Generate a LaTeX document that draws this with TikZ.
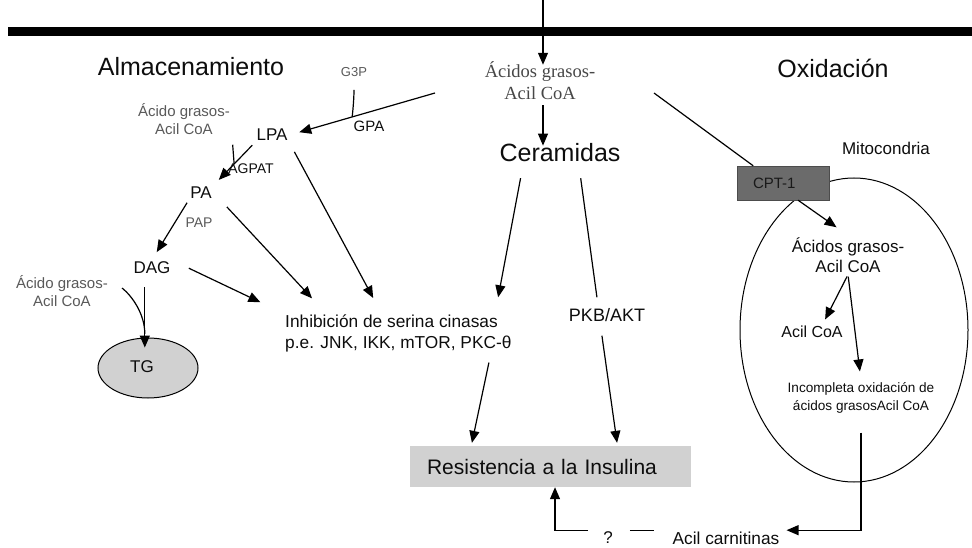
\documentclass[tikz,border=0pt]{standalone}
\usepackage{fontspec}
\setmainfont{Liberation Sans}
\newfontfamily\seriffam{Liberation Serif}
\usetikzlibrary{arrows.meta,calc,shapes.geometric}
\newcommand\fsz[2]{\fontsize{#1}{#2}\selectfont}

\begin{document}
\begin{tikzpicture}[x=1pt,y=1pt,
  txt/.style={inner sep=2pt, text=black!95},
  small/.style={inner sep=2pt, text=black!65},
  arr/.style={line width=1.2pt, -{Triangle[length=12pt,width=10pt]}},
  ln/.style={line width=1.2pt},
  title/.style={txt, font=\fsz{25}{30}}]

\useasboundingbox (0,0) rectangle (972,-548);

% cell membrane
\node[fill=black, inner sep=0, minimum width=964pt, minimum height=9pt] (membrane) at (490,-31.5) {};

% fatty acids entering the cell
\coordinate (ext) at (543,0);
\node[font=\seriffam\fsz{18.5}{22}, align=center, text=black!72, inner sep=1pt] (acid) at (540,-81) {Ácidos grasos-\\Acil CoA};
\draw[arr, shorten >=-4pt] (ext) -- (ext |- acid.north);

% section titles
\node[title] (alm) at (191,-67) {Almacenamiento};
\node[title] (oxi) at (833,-68) {Oxidación};
\node[title] (cer) at (560,-153) {Ceramidas};
\draw[arr, shorten <=4pt, shorten >=-4pt] (acid.south -| ext) -- (cer.north -| ext);

% ---------- storage branch ----------
\coordinate (stoStart) at (435,-93);
\node[txt, font=\fsz{17}{20}] (lpa) at (272,-135) {LPA};
\draw[arr, shorten >=10pt] (stoStart) -- (lpa.east);
\path (stoStart) -- (lpa.east) coordinate[pos=0.57] (gpaJoin);
\node[small, font=\fsz{13}{15}] (g3p) at (354,-72) {G3P};
\draw[ln, shorten <=11pt] (g3p.south) .. controls +(0,-18) and +(1,8) .. (gpaJoin);
\node[txt, font=\fsz{15}{18}] (gpa) at (369,-126) {GPA};

\node[small, font=\fsz{15}{18}, align=center] (acyl1) at (184,-119) {Ácido grasos-\\Acil CoA};
\node[txt, font=\fsz{17}{20}] (pa) at (201,-193) {PA};
\draw[arr, shorten <=3pt, shorten >=7pt] (lpa.south west) -- (pa.north east);
\path (lpa.south west) -- (pa.north east) coordinate[pos=0.5] (agJoin);
\draw[ln, shorten <=8pt] (acyl1.south east) -- (agJoin);
\node[txt, font=\fsz{14}{16}] (agpat) at (251,-169) {AGPAT};

\node[txt, font=\fsz{17}{20}] (dag) at (152,-268) {DAG};
\draw[arr, shorten <=2pt, shorten >=9pt] (pa.south west) -- (dag.north);
\node[small, font=\fsz{14}{16}] (pap) at (199,-223) {PAP};

% triglyceride synthesis
\node[small, font=\fsz{15}{18}, align=center] (acyl2) at (62,-291) {Ácido grasos-\\Acil CoA};
\node[draw, ellipse, fill=black!18, line width=1pt, minimum width=100pt, minimum height=60pt, inner sep=0] (tg) at (148,-368) {};
\node[txt, font=\fsz{17}{20}] (tglab) at (142,-367) {TG};
\draw[arr, shorten <=11pt, shorten >=-10pt] (dag.south -| tg.96) -- (tg.96);
\path (dag.south -| tg.96) -- (tg.96) coordinate[pos=0.94] (tgJoin);
\draw[ln] (acyl2.east) ++(12,3) .. controls +(10,-8) and +(0,20) .. (tgJoin);

% serine kinases
\node[txt, font=\fsz{17.3}{21}, align=left, anchor=north west] (inhib) at (283,-313) {Inhibición de serina cinasas\\p.e. JNK, IKK, mTOR, PKC-θ};
\draw[arr, shorten <=18pt, shorten >=25pt] (dag.20) -- (inhib.north west);
\draw[arr, shorten <=19pt, shorten >=20pt] (pa.east) -- ($(inhib.north west)!0.185!(inhib.north east)$);
\draw[arr, shorten <=10pt, shorten >=17pt] (lpa.south east) -- ($(inhib.north west)!0.426!(inhib.north east)$);
\draw[arr, shorten <=14pt, shorten >=16pt] ($(cer.south west)!0.206!(cer.south east)$) -- ($(inhib.north west)!0.92!(inhib.north east)$);

\node[txt, font=\fsz{18}{21}] (pkb) at (607,-315) {PKB/AKT};
\draw[ln, shorten <=14pt, shorten >=9pt] ($(cer.south west)!0.65!(cer.south east)$) -- ($(pkb.north west)!0.39!(pkb.north east)$);

% insulin resistance
\node[fill=black!18, minimum width=281pt, minimum height=41pt, inner xsep=17pt, inner ysep=0pt, text width=247pt, align=left, text=black!95, font=\fsz{21}{24}] (res) at (550.5,-466.5) {Resistencia a la Insulina};
\draw[arr, shorten <=8pt, shorten >=3pt] ($(inhib.south west)!0.90!(inhib.south east)$) -- ($(res.north west)!0.2185!(res.north east)$);
\draw[arr, shorten <=12pt, shorten >=3pt] ($(pkb.south west)!0.416!(pkb.south east)$) -- ($(res.north west)!0.738!(res.north east)$);

% ---------- oxidation branch ----------
\node[txt, font=\fsz{17}{20}] (mitolab) at (886,-148) {Mitocondria};
\node[draw, ellipse, line width=1pt, minimum width=228pt, minimum height=304pt, inner sep=0] (mito) at (854,-330) {};
\node[draw=black!70, fill=black!58, minimum width=92pt, minimum height=34pt, inner sep=0, text width=60pt, align=left, text=black!90, font=\fsz{15}{18}] (cpt) at (783,-183) {CPT-1};
\coordinate (oxStart) at (654,-93);
\draw[ln] (oxStart) -- (cpt.150.5);

\node[txt, font=\fsz{17}{20}, align=center] (acid2) at (848,-255) {Ácidos grasos-\\Acil CoA};
\draw[arr, shorten >=14pt] ($(cpt.south west)!0.663!(cpt.south east)$) -- (acid2.north);
\node[txt, font=\fsz{16}{19}] (acil2) at (812,-332) {Acil CoA};
\draw[arr, shorten <=2pt, shorten >=5pt] (acid2.south) -- ($(acil2.north west)!0.665!(acil2.north east)$);
\node[txt, font=\fsz{13.6}{18}, align=center] (incomp) at (861,-398) {Incompleta oxidación de\\ácidos grasosAcil CoA};
\draw[arr, shorten <=2pt, shorten >=9pt] (acid2.south) -- (incomp.north);

% acylcarnitines feeding back
\node[txt, font=\fsz{17.3}{20}] (acar) at (726,-538) {Acil carnitinas};
\node[txt, font=\fsz{17}{20}] (q) at (608,-538) {?};
\draw[arr, shorten <=17pt, shorten >=5pt] (incomp.south) |- (acar.8);
\draw[ln, shorten <=15pt, shorten >=16pt] (q.east |- acar.8) -- (acar.west |- acar.8);
\draw[arr, shorten <=13pt] (q.west |- acar.8) -| ($(res.south west)!0.516!(res.south east)$);

\end{tikzpicture}
\end{document}
